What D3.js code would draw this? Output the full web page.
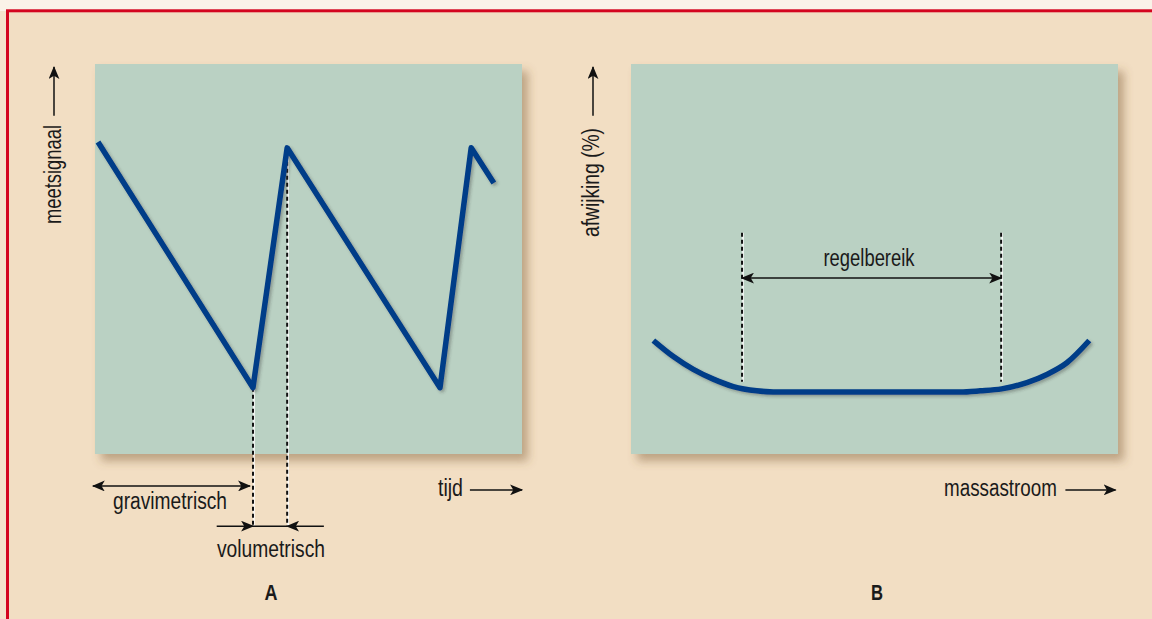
<!DOCTYPE html>
<html>
<head>
<meta charset="utf-8">
<script src="https://cdn.jsdelivr.net/npm/d3@7"></script>
<style>
  html, body { margin: 0; padding: 0; background: #faf2e8; }
  svg { display: block; }
  text { font-family: "Liberation Sans", Arial, sans-serif; font-size: 23px; fill: #1a1a1a; }
</style>
</head>
<body>
<div id="chart"></div>
<script>
// panel A: zigzag of the meetsignaal over tijd (0-100 units of the panel)
var tijd        = [0.7, 37.0, 45.0, 80.8, 88.1, 93.4];
var meetsignaal = [80.0, 17.0, 78.5, 17.0, 78.5, 69.5];

// panel B: afwijking against massastroom
var massastroom = [4.6, 8.7, 12.8, 16.9, 21.0, 25.8, 29.2, 67.6, 71.7, 76.1, 81.3, 85.4, 89.5, 94.1];
var afwijking   = [29.1, 25.0, 21.7, 19.2, 17.3, 16.2, 15.9, 15.9, 16.2, 16.7, 18.3, 20.4, 23.4, 29.1];

// marks on the axes
var volumetrischGrens = [37.0, 45.0];   // tijd where filling starts / stops
var regelbereik       = [22.8, 76.0];   // massastroom range

var width = 1152, height = 619;

var svg = d3.select("#chart")
    .append("svg")
    .attr("width", width)
    .attr("height", height);

var defs = svg.append("defs");

// shadow for the panels
var f = defs.append("filter").attr("id", "panelShadow")
    .attr("x", "-10%").attr("y", "-10%").attr("width", "130%").attr("height", "130%");
f.append("feDropShadow").attr("dx", 6).attr("dy", 7).attr("stdDeviation", 5)
    .attr("flood-color", "#7a5a35").attr("flood-opacity", 0.45);

var f2 = defs.append("filter").attr("id", "lineShadow")
    .attr("x", "-10%").attr("y", "-10%").attr("width", "130%").attr("height", "130%");
f2.append("feDropShadow").attr("dx", 2).attr("dy", 2).attr("stdDeviation", 1.5)
    .attr("flood-color", "#333").attr("flood-opacity", 0.35);

// arrow head
defs.append("marker")
    .attr("id", "arrow")
    .attr("viewBox", "0 -5 12 10")
    .attr("refX", 11).attr("refY", 0)
    .attr("markerUnits", "userSpaceOnUse")
    .attr("markerWidth", 13).attr("markerHeight", 11)
    .attr("orient", "auto-start-reverse")
    .append("path")
    .attr("d", "M0,-5 L12,0 L0,5 L3,0 Z")
    .attr("fill", "#111");

// background with red frame
svg.append("rect")
    .attr("x", 0).attr("y", 11).attr("width", width).attr("height", height)
    .attr("fill", "#f4e3cc");
svg.append("rect")
    .attr("x", 7.5).attr("y", 10.8).attr("width", width + 20).attr("height", height + 20)
    .attr("fill", "#f2dec3")
    .attr("stroke", "#d4051f").attr("stroke-width", 3);

// scales
var y = d3.scaleLinear().domain([0, 100]).range([454, 64]);
var xA = d3.scaleLinear().domain([0, 100]).range([95, 522]);
var xB = d3.scaleLinear().domain([0, 100]).range([631, 1118]);

// panels
[xA, xB].forEach(function (x) {
    svg.append("rect")
        .attr("x", x(0)).attr("y", y(100))
        .attr("width", x(100) - x(0)).attr("height", y(0) - y(100))
        .attr("fill", "#bad1c3")
        .attr("filter", "url(#panelShadow)");
});

function dashed(x1, y1, x2, y2) {
    svg.append("line")
        .attr("x1", x1 + 1).attr("y1", y1).attr("x2", x2 + 1).attr("y2", y2)
        .attr("stroke", "#fff").attr("stroke-width", 1.5);
    svg.append("line")
        .attr("x1", x1).attr("y1", y1).attr("x2", x2).attr("y2", y2)
        .attr("stroke", "#111").attr("stroke-width", 2)
        .attr("stroke-dasharray", "4,3");
}

function arrowLine(x1, y1, x2, y2, both) {
    var l = svg.append("line")
        .attr("x1", x1).attr("y1", y1).attr("x2", x2).attr("y2", y2)
        .attr("stroke", "#111").attr("stroke-width", 1.5)
        .attr("marker-end", "url(#arrow)");
    if (both) l.attr("marker-start", "url(#arrow)");
    return l;
}

// condensed label: squeeze text to the width it has in the print
function label(x, yy, txt, len, anchor) {
    return svg.append("text")
        .attr("x", x).attr("y", yy)
        .attr("text-anchor", anchor || "middle")
        .attr("textLength", len)
        .attr("lengthAdjust", "spacingAndGlyphs")
        .text(txt);
}

// ---------- panel A ----------
var dataA = tijd.map(function (t, i) { return [t, meetsignaal[i]]; });

// dashed lines below trough and peak
dashed(xA(volumetrischGrens[0]), y(meetsignaal[1]), xA(volumetrischGrens[0]), y(-18.5));
dashed(xA(volumetrischGrens[1]), y(meetsignaal[2]), xA(volumetrischGrens[1]), y(-18.5));

svg.append("path")
    .datum(dataA)
    .attr("d", d3.line().x(function (d) { return xA(d[0]); }).y(function (d) { return y(d[1]); }))
    .attr("fill", "none")
    .attr("stroke", "#003c88")
    .attr("stroke-width", 5.5)
    .attr("stroke-linejoin", "round")
    .attr("filter", "url(#lineShadow)");

// gravimetrisch
arrowLine(xA(-0.5), y(-8.2), xA(volumetrischGrens[0]) - 3, y(-8.2), true);
label(170, y(-14), "gravimetrisch", 114);

// volumetrisch
svg.append("line")
    .attr("x1", xA(volumetrischGrens[0])).attr("x2", xA(volumetrischGrens[1]))
    .attr("y1", y(-18.5)).attr("y2", y(-18.5))
    .attr("stroke", "#111").attr("stroke-width", 1.5);
arrowLine(xA(28.5), y(-18.5), xA(volumetrischGrens[0]), y(-18.5), false);
arrowLine(xA(53.6), y(-18.5), xA(volumetrischGrens[1]), y(-18.5), false);
label(271, y(-26.5), "volumetrisch", 108);

// axis labels A
label(463, y(-10.8), "tijd", 25, "end");
arrowLine(xA(87.8), y(-9.2), xA(100), y(-9.2), false);

svg.append("text")
    .attr("transform", "translate(61,224) rotate(-90)")
    .attr("textLength", 99)
    .attr("lengthAdjust", "spacingAndGlyphs")
    .text("meetsignaal");
arrowLine(54, y(86.7), 54, y(99.2), false);

svg.append("text")
    .attr("x", 271).attr("y", y(-37.5))
    .attr("text-anchor", "middle")
    .attr("font-weight", "bold")
    .attr("textLength", 13)
    .attr("lengthAdjust", "spacingAndGlyphs")
    .style("font-size", "22px")
    .text("A");

// ---------- panel B ----------
var dataB = massastroom.map(function (m, i) { return [m, afwijking[i]]; });

regelbereik.forEach(function (r) {
    dashed(xB(r), y(56.7), xB(r), y(18.5));
});

svg.append("path")
    .datum(dataB)
    .attr("d", d3.line().curve(d3.curveMonotoneX)
        .x(function (d) { return xB(d[0]); }).y(function (d) { return y(d[1]); }))
    .attr("fill", "none")
    .attr("stroke", "#003c88")
    .attr("stroke-width", 5.5)
    .attr("filter", "url(#lineShadow)");

arrowLine(xB(regelbereik[0]), y(45.1), xB(regelbereik[1]), y(45.1), true);
label(869, y(48.2), "regelbereik", 91);

label(1057, y(-10.8), "massastroom", 113, "end");
arrowLine(xB(89.2), y(-9.2), xB(99.5), y(-9.2), false);

svg.append("text")
    .attr("transform", "translate(599,237) rotate(-90)")
    .attr("textLength", 109)
    .attr("lengthAdjust", "spacingAndGlyphs")
    .text("afwijking (%)");
arrowLine(593, y(86.7), 593, y(99.2), false);

svg.append("text")
    .attr("x", 877).attr("y", y(-37.5))
    .attr("text-anchor", "middle")
    .attr("font-weight", "bold")
    .attr("textLength", 12)
    .attr("lengthAdjust", "spacingAndGlyphs")
    .style("font-size", "22px")
    .text("B");
</script>
</body>
</html>
